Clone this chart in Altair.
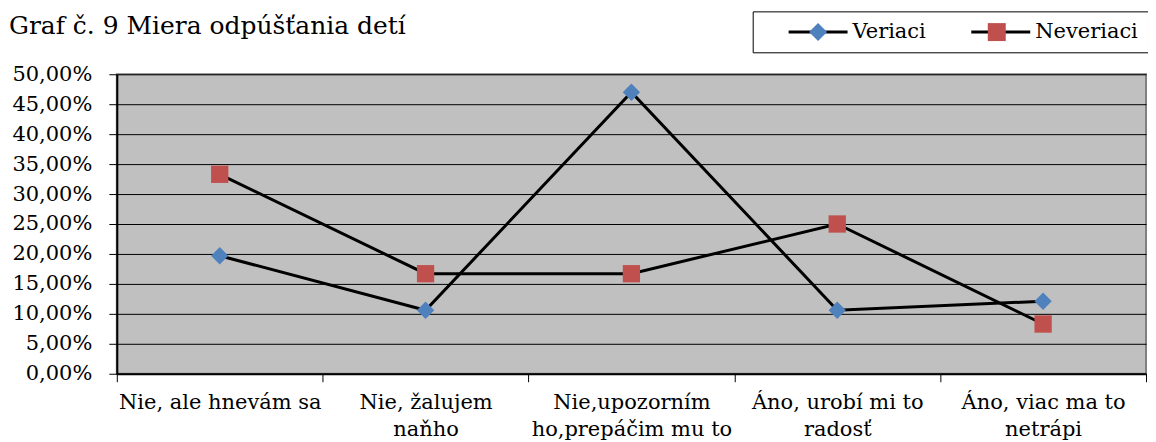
import json
import altair as alt
import pandas as pd

categories = ["Nie, ale hnevám sa", "Nie, žalujem naňho", "Nie,upozorním ho,prepáčim mu to",
              "Áno, urobí mi to radosť", "Áno, viac ma to netrápi"]
tick_lines = [["Nie, ale hnevám sa"], ["Nie, žalujem", "naňho"], ["Nie,upozorním", "ho,prepáčim mu to"],
              ["Áno, urobí mi to", "radosť"], ["Áno, viac ma to", "netrápi"]]
series = ["Veriaci", "Neveriaci"]
veriaci = [0.197, 0.106, 0.470, 0.106, 0.121]
neveriaci = [0.333, 0.167, 0.167, 0.250, 0.083]
y_ticks = [0.0, 0.05, 0.10, 0.15, 0.20, 0.25, 0.30, 0.35, 0.40, 0.45, 0.50]
marker_colors = ["#4F81BD", "#C0504D"]
marker_shapes = ["diamond", "square"]

rows = []
for name, vals in zip(series, [veriaci, neveriaci]):
    for c, v in zip(categories, vals):
        rows.append({"kat": c, "serie": name, "serie2": name, "hodnota": v})
df = pd.DataFrame(rows)

# multi-line tick labels
expr = "datum.label"
for c, lines in reversed(list(zip(categories, tick_lines))):
    expr = f"datum.label == {json.dumps(c, ensure_ascii=False)} ? {json.dumps(lines, ensure_ascii=False)} : ({expr})"

FONT = "DejaVu Serif"
PAD_L, PAD_T = 109, 66

x_enc = alt.X("kat:N", sort=categories,
              scale=alt.Scale(paddingInner=0, paddingOuter=0),
              axis=alt.Axis(title=None, labelAngle=0, tickBand="extent", tickSize=8, tickColor="black",
                            tickWidth=1, domainColor="black", domainWidth=2, labelFont=FONT,
                            labelFontSize=21, labelColor="black", labelLineHeight=27, labelPadding=10,
                            labelLimit=0, labelExpr=expr, grid=False, labelBaseline="top"))
y_enc = alt.Y("hodnota:Q", scale=alt.Scale(domain=[0, 0.5], nice=False),
              axis=alt.Axis(title=None, values=y_ticks, tickSize=8, tickColor="black", domainColor="black",
                            domainWidth=2, labelFont=FONT, labelFontSize=21, labelColor="black",
                            labelPadding=17, gridColor="black", gridWidth=1, gridOpacity=1,
                            labelExpr="replace(format(datum.value, '.2%'), '.', ',')"))

common_legend = dict(orient="none", legendX=637, legendY=-63, direction="horizontal",
                     title=" ", titleOrient="left", titleFontSize=8, titlePadding=45,
                     padding=10, labelFont=FONT, labelFontSize=21, labelColor="black",
                     labelOffset=24, columnPadding=38, labelLimit=0, symbolSize=324)

lines = alt.Chart(df).mark_line(strokeWidth=3).encode(
    x=x_enc, y=y_enc,
    stroke=alt.Stroke("serie:N", sort=series,
                      scale=alt.Scale(range=["black", "black"]),
                      legend=alt.Legend(symbolType="M-3.28,0H3.28", symbolStrokeWidth=3,
                                        strokeColor="black", fillColor="transparent",
                                        **common_legend)),
)

legend_b = {**common_legend, "columnPadding": 60}
points = alt.Chart(df).mark_point(filled=True, opacity=1, size=300, strokeWidth=0).encode(
    x=x_enc, y=y_enc,
    shape=alt.Shape("serie2:N", sort=series, scale=alt.Scale(domain=series, range=marker_shapes),
                    legend=alt.Legend(labelOpacity=0, symbolStrokeWidth=0, symbolOpacity=1, **legend_b)),
    fill=alt.Fill("serie2:N", sort=series, scale=alt.Scale(domain=series, range=marker_colors),
                  legend=alt.Legend(labelOpacity=0, symbolStrokeWidth=0, symbolOpacity=1, **legend_b)),
)

chart = alt.layer(lines, points).properties(
    width=1031, height=300,
    background="white",
    title=alt.TitleParams("Graf č. 9 Miera odpúšťania detí", anchor="start", frame="group",
                          font=FONT, fontSize=25, fontWeight="normal", color="black",
                          dx=-108, baseline="alphabetic", offset=0, dy=48),
    autosize=alt.AutoSizeParams(type="none"),
    padding={"left": PAD_L, "top": PAD_T, "right": 2, "bottom": 68},
).configure_view(fill="#C0C0C0", stroke="#808080", strokeWidth=2)

chart.save("out.html", embed_options={"renderer": "svg", "actions": False})
